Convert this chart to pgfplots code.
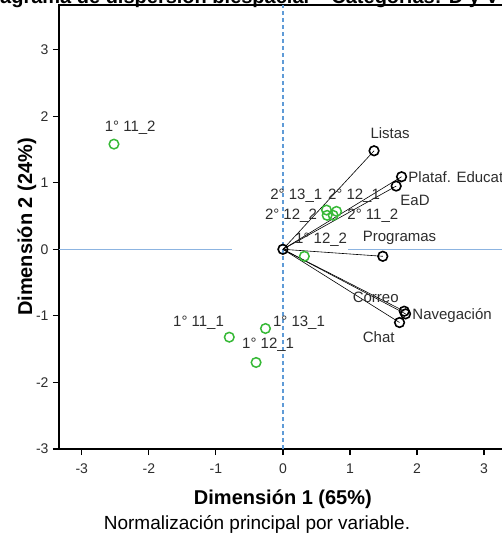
\documentclass[border=0pt]{standalone}
\usepackage{fontspec}
\setmainfont{Liberation Sans}
\usepackage{pgfplots}
\pgfplotsset{compat=1.18}

\definecolor{objgreen}{RGB}{55,185,55}
\definecolor{refblue}{RGB}{140,180,225}
\definecolor{dashblue}{RGB}{95,155,215}
\definecolor{lbl}{RGB}{45,45,45}

\begin{document}
\begin{tikzpicture}[x=1pt,y=1pt]
\begin{axis}[
  name=ax,
  scale only axis,
  width=447.8pt, height=444pt,
  xmin=-3.34, xmax=3.34, ymin=-3, ymax=3.67,
  xtick={-3,-2,-1,0,1,2,3}, ytick={-3,-2,-1,0,1,2,3},
  xtick pos=bottom, ytick pos=left,
  tick align=outside, major tick length=6pt,
  axis line style={line width=1.2pt},
  every tick/.style={black, line width=1.2pt},
  /pgf/number format/assume math mode=true,
  tick label style={font=\fontsize{14}{14}\selectfont, text=lbl},
  xticklabel style={yshift=-5pt},
  yticklabel style={xshift=-1pt},
  xlabel={Dimensión 1 (65\%)},
  ylabel={Dimensión 2 (24\%)},
  label style={font=\fontsize{20}{20}\selectfont\bfseries},
  xlabel style={at={(axis description cs:0.5,0)}, anchor=center, yshift=-50pt},
  ylabel style={at={(axis description cs:-0.0715,0.5)}, anchor=center},
  clip=false,
]
% reference lines
\addplot[refblue, line width=1.1pt] coordinates {(-3.34,0) (-0.76,0)};
\addplot[refblue, line width=1.1pt] coordinates {(0.97,0) (3.34,0)};
\addplot[dashblue, line width=1.3pt, dash pattern=on 4pt off 3pt] coordinates {(0,-3) (0,3.67)};

% component loadings drawn as vectors from the origin
\addplot[black, line width=0.6pt] coordinates {(0,0) (1.36,1.48)};
\addplot[black, line width=0.6pt] coordinates {(0,0) (1.77,1.09)};
\addplot[black, line width=0.6pt] coordinates {(0,0) (1.69,0.95)};
\addplot[black, line width=0.6pt] coordinates {(0,0) (1.49,-0.105)};
\addplot[black, line width=0.6pt] coordinates {(0,0) (1.81,-0.93)};
\addplot[black, line width=0.6pt] coordinates {(0,0) (1.83,-0.97)};
\addplot[black, line width=0.6pt] coordinates {(0,0) (1.74,-1.10)};

% variable points
\addplot[only marks, mark=o, mark size=4.8pt, black, mark options={line width=1.6pt}]
  coordinates {(0,0) (1.36,1.48) (1.77,1.09) (1.69,0.95) (1.49,-0.105)
               (1.81,-0.93) (1.83,-0.97) (1.74,-1.10)};

% object categories
\addplot[only marks, mark=o, mark size=4.8pt, objgreen, mark options={line width=1.5pt}]
  coordinates {(-2.52,1.58) (-0.80,-1.32) (-0.26,-1.19) (-0.40,-1.70)
               (0.32,-0.105) (0.65,0.59) (0.80,0.57) (0.66,0.51) (0.75,0.51)};

% point labels
\begin{scope}[every node/.style={font=\fontsize{15}{15}\selectfont, text=lbl, inner sep=0pt, anchor=west}]
\node at (axis cs:-2.66,1.83) {1° 11\_2};
\node[anchor=center] at (axis cs:1.60,1.74) {Listas};
\node at (axis cs:1.87,1.08) {Plataf. Educat};
\node at (axis cs:1.75,0.74) {EaD};
\node at (axis cs:-0.19,0.81) {2° 13\_1};
\node at (axis cs:0.67,0.81) {2° 12\_1};
\node at (axis cs:-0.27,0.51) {2° 12\_2};
\node at (axis cs:0.96,0.51) {2° 11\_2};
\node at (axis cs:0.18,0.15) {1° 12\_2};
\node at (axis cs:1.19,0.17) {Programas};
\node at (axis cs:1.04,-0.72) {Correo};
\node at (axis cs:1.93,-0.99) {Navegación};
\node at (axis cs:1.19,-1.32) {Chat};
\node at (axis cs:-1.64,-1.10) {1° 11\_1};
\node at (axis cs:-0.15,-1.10) {1° 13\_1};
\node at (axis cs:-0.61,-1.44) {1° 12\_1};
\end{scope}
\end{axis}

% chart title and footnote
\node[anchor=base west, font=\fontsize{20}{20}\selectfont\bfseries, inner sep=0pt]
  at ([shift={(-79pt,1pt)}]ax.north west) {Diagrama de dispersión biespacial -- Categorías: D y V};
\node[anchor=center, font=\fontsize{19}{19}\selectfont, inner sep=0pt]
  at ([shift={(198pt,-75pt)}]ax.south west) {Normalización principal por variable.};

\pgfresetboundingbox
\useasboundingbox ([shift={(-59pt,5pt)}]ax.north west) rectangle ([shift={(443pt,-545pt)}]ax.north west);
\end{tikzpicture}
\end{document}
